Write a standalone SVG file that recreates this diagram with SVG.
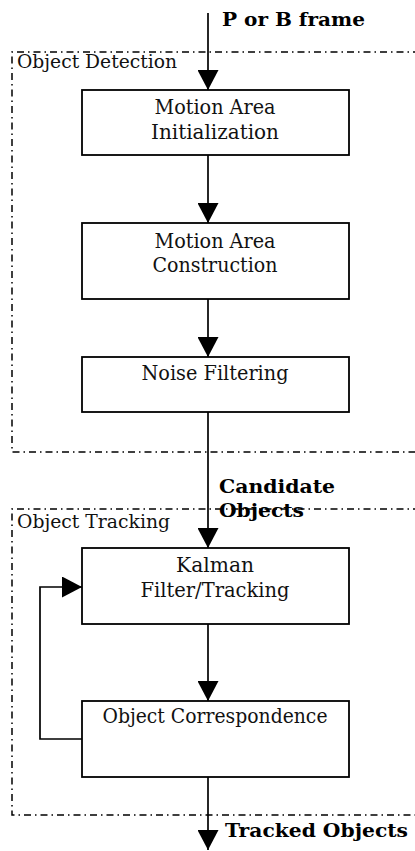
<svg xmlns="http://www.w3.org/2000/svg" width="415" height="851" viewBox="0 0 415 851">
<style>
.box{fill:#fff;stroke:#000;stroke-width:1.8}
.grp{fill:none;stroke:#000;stroke-width:1.5;stroke-dasharray:7 4 1.5 4}
.t{font-family:"DejaVu Serif","Liberation Serif",serif;font-size:19.5px;fill:#111;text-anchor:middle}
.gl{font-family:"DejaVu Serif","Liberation Serif",serif;font-size:18px;fill:#111}
.lb{font-family:"DejaVu Serif","Liberation Serif",serif;font-size:18px;font-weight:bold;fill:#000}
.c{fill:none;stroke:#000;stroke-width:1.7}
</style>
<defs>
<marker id="ah" markerUnits="userSpaceOnUse" markerWidth="20" markerHeight="21" refX="20" refY="10.5" orient="auto" viewBox="0 0 20 21">
<path d="M0,0 L20,10.5 L0,21 z" fill="#000"/>
</marker>
</defs>
<g id="group-detection">
<path class="grp" d="M420,52 H12 V452 H420"/>
<text class="gl" x="17" y="68" textLength="160" lengthAdjust="spacingAndGlyphs">Object Detection</text>
</g>
<g id="group-tracking">
<path class="grp" d="M420,509 H12 V815 H420"/>
<text class="gl" x="17" y="528" textLength="153" lengthAdjust="spacingAndGlyphs">Object Tracking</text>
</g>
<g id="connectors">
<path class="c" d="M208,13 V90" marker-end="url(#ah)"/>
<path class="c" d="M208,155 V223" marker-end="url(#ah)"/>
<path class="c" d="M208,299 V357" marker-end="url(#ah)"/>
<path class="c" d="M208,412 V548" marker-end="url(#ah)"/>
<path class="c" d="M208,624 V701" marker-end="url(#ah)"/>
<path class="c" d="M208,777 V850" marker-end="url(#ah)"/>
<path class="c" d="M82,739 H40 V587 H82" marker-end="url(#ah)"/>
</g>
<g id="label-input">
<text class="lb" x="222" y="26" textLength="143" lengthAdjust="spacingAndGlyphs">P or B frame</text>
</g>
<g id="label-candidate">
<text class="lb" x="219" y="493" textLength="116" lengthAdjust="spacingAndGlyphs">Candidate</text>
<text class="lb" x="219" y="517" textLength="85" lengthAdjust="spacingAndGlyphs">Objects</text>
</g>
<g id="label-output">
<text class="lb" x="225" y="837" textLength="183" lengthAdjust="spacingAndGlyphs">Tracked Objects</text>
</g>
<g id="node-init">
<rect class="box" x="82" y="90" width="267" height="65"/>
<text class="t" x="215" y="114" textLength="121" lengthAdjust="spacingAndGlyphs">Motion Area</text>
<text class="t" x="215" y="139" textLength="128" lengthAdjust="spacingAndGlyphs">Initialization</text>
</g>
<g id="node-construct">
<rect class="box" x="82" y="223" width="267" height="76"/>
<text class="t" x="215" y="248" textLength="121" lengthAdjust="spacingAndGlyphs">Motion Area</text>
<text class="t" x="215" y="272" textLength="125" lengthAdjust="spacingAndGlyphs">Construction</text>
</g>
<g id="node-noise">
<rect class="box" x="82" y="357" width="267" height="55"/>
<text class="t" x="215" y="380" textLength="147" lengthAdjust="spacingAndGlyphs">Noise Filtering</text>
</g>
<g id="node-kalman">
<rect class="box" x="82" y="548" width="267" height="76"/>
<text class="t" x="215" y="572" textLength="78" lengthAdjust="spacingAndGlyphs">Kalman</text>
<text class="t" x="215" y="597" textLength="149" lengthAdjust="spacingAndGlyphs">Filter/Tracking</text>
</g>
<g id="node-corr">
<rect class="box" x="82" y="701" width="267" height="76"/>
<text class="t" x="215" y="723" textLength="225" lengthAdjust="spacingAndGlyphs">Object Correspondence</text>
</g>
</svg>
